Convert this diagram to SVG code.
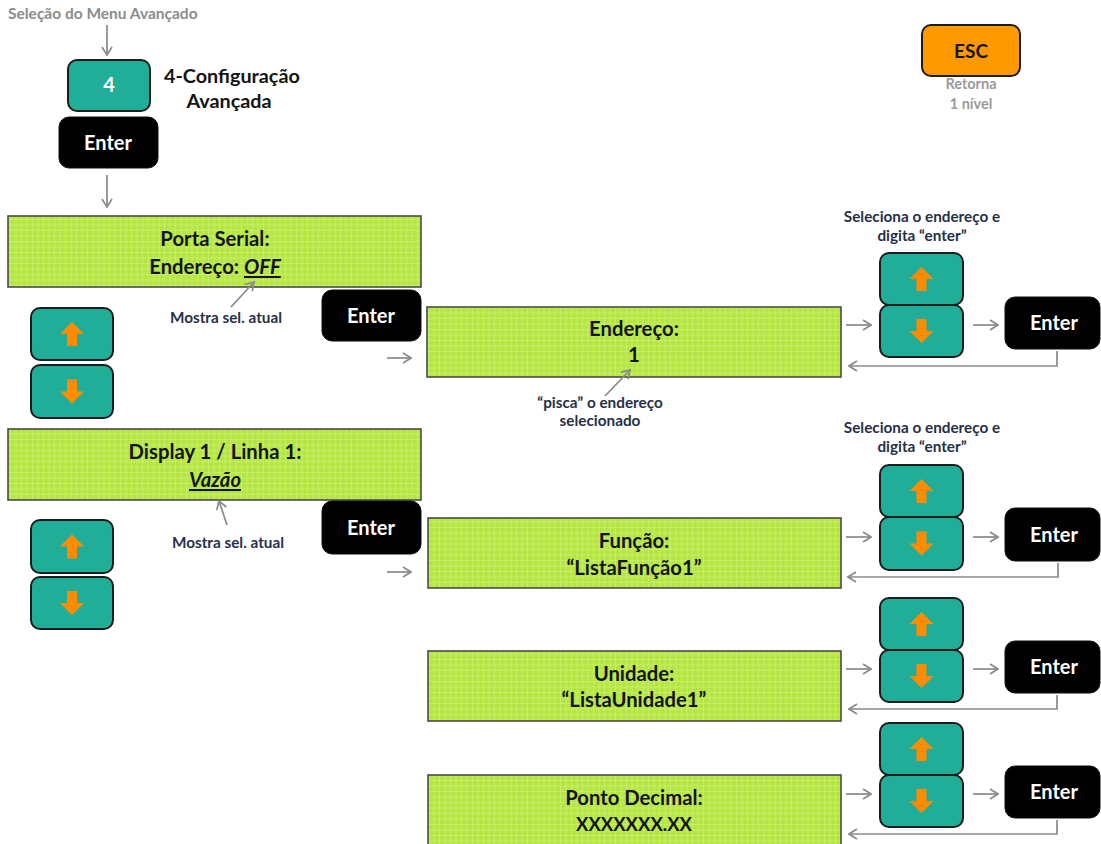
<svg xmlns="http://www.w3.org/2000/svg" width="1101" height="844" viewBox="0 0 1101 844">
  <style>
    text { font-family: Lato, "Open Sans", "Liberation Sans", sans-serif; font-weight: bold; }
    .lcd { fill: url(#dots); stroke: #4a4a4a; stroke-width: 1.6; }
    .lcdtxt { font-size: 20.3px; fill: #141414; text-anchor: middle; }
    .teal { fill: #21ae98; stroke: #1c1c1c; stroke-width: 2; }
    .enter { fill: #000; stroke: #111; stroke-width: 1; }
    .entertxt { font-size: 20px; fill: #fff; text-anchor: middle; }
    .arw { fill: #ff8c00; }
    .note { font-size: 15.3px; fill: #26304a; text-anchor: middle; }
    .gray { font-size: 15.5px; fill: #8c8c8c; }
    .conn { fill: none; stroke: #8a8a8a; stroke-width: 1.7; marker-end: url(#open); }
    .sel { font-style: italic; text-decoration: underline; }
  </style>
  <defs>
    <!-- dot-matrix texture of the LCD panels -->
    <pattern id="dots" width="5.5" height="5.5" patternUnits="userSpaceOnUse">
      <rect width="5.5" height="5.5" fill="#c9ef74"/>
      <rect x="0" y="0" width="4.7" height="4.7" fill="#b6e642"/>
    </pattern>
    <marker id="open" viewBox="0 0 10 12" refX="9" refY="6" markerWidth="10" markerHeight="12" markerUnits="userSpaceOnUse" orient="auto">
      <path d="M1,1 L9,6 L1,11" fill="none" stroke="#8a8a8a" stroke-width="1.7"/>
    </marker>
    <path id="up" d="M0,-12 L12,0 L5,0 L5,12 L-5,12 L-5,0 L-12,0 Z"/>
    <path id="down" d="M0,12 L12,0 L5,0 L5,-12 L-5,-12 L-5,0 L-12,0 Z"/>
  </defs>

  <rect width="1101" height="844" fill="#fff"/>

  <!-- entry -->
  <text class="gray" x="8" y="19">Seleção do Menu Avançado</text>

  <g id="key4">
    <rect class="teal" x="68" y="60" width="82" height="51" rx="9"/>
    <text x="109" y="92" font-size="20" fill="#fff" text-anchor="middle">4</text>
  </g>
  <g id="title">
    <text x="164" y="83" font-size="19.8" fill="#141414">4-Configuração</text>
    <text x="229" y="108" font-size="19.8" fill="#141414" text-anchor="middle">Avançada</text>
  </g>
  <g id="enter-top">
    <rect class="enter" x="59" y="117" width="99" height="51" rx="10"/>
    <text class="entertxt" x="108" y="150">Enter</text>
  </g>

  <g id="esc">
    <rect x="922" y="25" width="98" height="51" rx="9" fill="#ff9900" stroke="#1c1c1c" stroke-width="2"/>
    <text x="971" y="58" font-size="19" fill="#141414" text-anchor="middle">ESC</text>
    <text x="971" y="89" font-size="14.5" fill="#9a9a9a" text-anchor="middle">Retorna</text>
    <text x="971" y="109" font-size="14.5" fill="#9a9a9a" text-anchor="middle">1 nível</text>
  </g>

  <!-- serial port menu -->
  <g id="lcd-porta">
    <rect class="lcd" x="8" y="216" width="413" height="71"/>
    <text class="lcdtxt" x="215" y="246">Porta Serial:</text>
    <text class="lcdtxt" x="215" y="274">Endereço: <tspan class="sel">OFF</tspan></text>
  </g>
  <text id="note-porta" class="note" x="226" y="323">Mostra sel. atual</text>

  <g id="nav1-up"><rect class="teal" x="31" y="308" width="82" height="52" rx="9"/><use href="#up" class="arw" x="72" y="334"/></g>
  <g id="nav1-down"><rect class="teal" x="31" y="365" width="82" height="53" rx="9"/><use href="#down" class="arw" x="72" y="391.5"/></g>

  <g id="enter-porta">
    <rect class="enter" x="322" y="290" width="99" height="51" rx="10"/>
    <text class="entertxt" x="371" y="323">Enter</text>
  </g>

  <g id="lcd-endereco">
    <rect class="lcd" x="427" y="307" width="414" height="70"/>
    <text class="lcdtxt" x="634" y="336">Endereço:</text>
    <text class="lcdtxt" x="634" y="362">1</text>
  </g>
  <g id="note-pisca">
    <text class="note" x="600" y="408">“pisca” o endereço</text>
    <text class="note" x="600" y="426">selecionado</text>
  </g>

  <g id="hint1">
    <text class="note" x="922" y="222" fill="#141414">Seleciona o endereço e</text>
    <text class="note" x="922" y="241" fill="#141414">digita “enter”</text>
  </g>
  <g id="sel1-up"><rect class="teal" x="880" y="253" width="83" height="52" rx="9"/><use href="#up" class="arw" x="921.5" y="279"/></g>
  <g id="sel1-down"><rect class="teal" x="880" y="305" width="83" height="52" rx="9"/><use href="#down" class="arw" x="921.5" y="331"/></g>
  <g id="enter1">
    <rect class="enter" x="1005" y="297" width="95" height="52" rx="10"/>
    <text class="entertxt" x="1054" y="330">Enter</text>
  </g>

  <!-- display line menu -->
  <g id="lcd-display">
    <rect class="lcd" x="8" y="429" width="413" height="71"/>
    <text class="lcdtxt" x="215" y="459">Display 1 / Linha 1:</text>
    <text class="lcdtxt sel" x="215" y="487">Vazão</text>
  </g>
  <text id="note-display" class="note" x="228" y="548">Mostra sel. atual</text>

  <g id="nav2-up"><rect class="teal" x="31" y="520" width="82" height="53" rx="9"/><use href="#up" class="arw" x="72" y="546.5"/></g>
  <g id="nav2-down"><rect class="teal" x="31" y="577" width="82" height="52" rx="9"/><use href="#down" class="arw" x="72" y="603"/></g>

  <g id="enter-display">
    <rect class="enter" x="322" y="501" width="99" height="53" rx="10"/>
    <text class="entertxt" x="371" y="535">Enter</text>
  </g>

  <g id="lcd-funcao">
    <rect class="lcd" x="428" y="518" width="413" height="70"/>
    <text class="lcdtxt" x="634" y="548">Função:</text>
    <text class="lcdtxt" x="634" y="575">“ListaFunção1”</text>
  </g>
  <g id="hint2">
    <text class="note" x="922" y="433" fill="#141414">Seleciona o endereço e</text>
    <text class="note" x="922" y="452" fill="#141414">digita “enter”</text>
  </g>
  <g id="sel2-up"><rect class="teal" x="880" y="465" width="83" height="52" rx="9"/><use href="#up" class="arw" x="921.5" y="491"/></g>
  <g id="sel2-down"><rect class="teal" x="880" y="517" width="83" height="53" rx="9"/><use href="#down" class="arw" x="921.5" y="543.5"/></g>
  <g id="enter2">
    <rect class="enter" x="1005" y="508" width="95" height="53" rx="10"/>
    <text class="entertxt" x="1054" y="542">Enter</text>
  </g>

  <g id="lcd-unidade">
    <rect class="lcd" x="428" y="651" width="413" height="70"/>
    <text class="lcdtxt" x="634" y="681">Unidade:</text>
    <text class="lcdtxt" x="634" y="707">“ListaUnidade1”</text>
  </g>
  <g id="sel3-up"><rect class="teal" x="880" y="598" width="83" height="52" rx="9"/><use href="#up" class="arw" x="921.5" y="624"/></g>
  <g id="sel3-down"><rect class="teal" x="880" y="650" width="83" height="52" rx="9"/><use href="#down" class="arw" x="921.5" y="676"/></g>
  <g id="enter3">
    <rect class="enter" x="1005" y="641" width="95" height="52" rx="10"/>
    <text class="entertxt" x="1054" y="674">Enter</text>
  </g>

  <g id="lcd-ponto">
    <rect class="lcd" x="428" y="775" width="413" height="72"/>
    <text class="lcdtxt" x="634" y="805">Ponto Decimal:</text>
    <text class="lcdtxt" x="634" y="831" style="font-size:18.5px">XXXXXXX.XX</text>
  </g>
  <g id="sel4-up"><rect class="teal" x="880" y="723" width="83" height="52" rx="9"/><use href="#up" class="arw" x="921.5" y="749"/></g>
  <g id="sel4-down"><rect class="teal" x="880" y="775" width="83" height="52" rx="9"/><use href="#down" class="arw" x="921.5" y="801"/></g>
  <g id="enter4">
    <rect class="enter" x="1005" y="766" width="95" height="52" rx="10"/>
    <text class="entertxt" x="1054" y="799">Enter</text>
  </g>

  <!-- connectors -->
  <g id="connectors">
    <path class="conn" d="M107,25 V55"/>
    <path class="conn" d="M107,175 V207"/>
    <path class="conn" d="M231,307 L254,282"/>
    <path class="conn" d="M387,358 H411"/>
    <path class="conn" d="M605,396 L630,370"/>
    <path class="conn" d="M846,325 H871"/>
    <path class="conn" d="M973,325 H998"/>
    <path class="conn" d="M1057,351 V366 H849"/>
    <path class="conn" d="M227,525 L219,501"/>
    <path class="conn" d="M387,572 H411"/>
    <path class="conn" d="M846,537 H871"/>
    <path class="conn" d="M973,537 H998"/>
    <path class="conn" d="M1058,563 V577 H848"/>
    <path class="conn" d="M846,669 H871"/>
    <path class="conn" d="M973,669 H998"/>
    <path class="conn" d="M1057,695 V709 H849"/>
    <path class="conn" d="M846,794 H871"/>
    <path class="conn" d="M973,794 H998"/>
    <path class="conn" d="M1057,820 V834 H849"/>
  </g>
</svg>
